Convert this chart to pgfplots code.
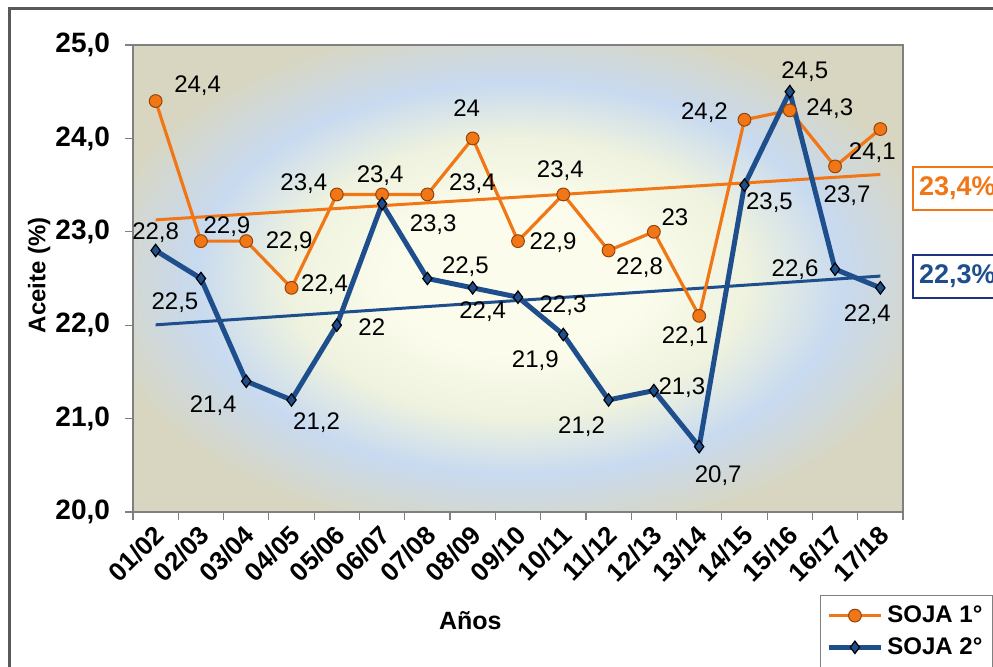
\documentclass[border=0pt]{standalone}
\usepackage{pgfplots}
\usepackage{pgfplotstable}
\pgfplotsset{compat=1.18}
\usepackage{fontspec}
\setmainfont{Liberation Sans}

\definecolor{sojaA}{RGB}{240,118,22}
\definecolor{sojaAedge}{RGB}{150,68,10}
\definecolor{sojaB}{RGB}{30,78,140}
\definecolor{sojaBbox}{RGB}{30,50,130}
\definecolor{bgA}{RGB}{252,252,236}
\definecolor{bgB}{RGB}{238,242,222}
\definecolor{bgC}{RGB}{200,218,240}
\definecolor{bgD}{RGB}{216,214,192}
\pgfdeclareradialshading{plotbg}{\pgfpoint{0bp}{0bp}}{color(0bp)=(bgA); color(8bp)=(bgA); color(15bp)=(bgB); color(21bp)=(bgC); color(28bp)=(bgD); color(50bp)=(bgD)}

\tikzset{lbl/.style={font=\fontsize{12}{14}\selectfont, inner sep=0pt}}

\pgfplotstableread{
x s1 s2
0 24.4 22.8
1 22.9 22.5
2 22.9 21.4
3 22.4 21.2
4 23.4 22.0
5 23.4 23.3
6 23.4 22.5
7 24.0 22.4
8 22.9 22.3
9 23.4 21.9
10 22.8 21.2
11 23.0 21.3
12 22.1 20.7
13 24.2 23.5
14 24.3 24.5
15 23.7 22.6
16 24.1 22.4
}\sojadata

\begin{document}
\begin{tikzpicture}
	\useasboundingbox (0,0) rectangle (496.5pt,333pt);
	% marco exterior
	\draw[line width=1.5pt, gray!70!black] (4.5pt,-10pt) -- (4.5pt,328.5pt) -- (510pt,328.5pt);
	\begin{axis}[
			at={(66.5pt,77pt)}, anchor=south west,
			scale only axis, width=385pt, height=233.5pt,
			xmin=-0.5, xmax=16.5,
			ymin=20, ymax=25,
			clip=false,
			axis background/.style={shade, shading=plotbg},
			axis line style={gray, line width=0.6pt},
			tick align=outside,
			tick style={gray, line width=0.6pt},
			major tick length=4pt, minor tick length=4pt,
			xtick={0,...,16},
			xticklabels={01/02,02/03,03/04,04/05,05/06,06/07,07/08,08/09,09/10,10/11,11/12,12/13,13/14,14/15,15/16,16/17,17/18},
			major x tick style={draw=none},
			minor xtick={-0.5,0.5,...,16.5},
			ytick={20,21,...,25},
			xtick pos=bottom, ytick pos=left,
			/pgf/number format/.cd, fixed, fixed zerofill, precision=1, use comma, assume math mode=true,
			/pgfplots/.cd,
			yticklabel style={font=\bfseries\fontsize{14}{16}\selectfont, xshift=-4pt},
			xticklabel style={font=\bfseries\fontsize{13}{15}\selectfont, rotate=45, anchor=east, xshift=1pt, yshift=-5pt},
			ylabel={Aceite (\%)},
			ylabel style={font=\bfseries\fontsize{12}{14}\selectfont, at={(axis description cs:-0.122,0.507)}, anchor=center},
			xlabel={Años},
			xlabel style={font=\bfseries\fontsize{12.5}{14}\selectfont, at={(axis description cs:0.438,-0.233)}, anchor=center},
			legend style={at={(axis description cs:0.892,-0.178)}, anchor=north west, draw=gray, line width=0.6pt,
					font=\bfseries\fontsize{12}{14}\selectfont, row sep=2pt, inner sep=3pt},
			legend cell align=left,
			legend image code/.code={\draw[#1, mark repeat=2, mark phase=2] plot coordinates {(0pt,0pt) (13pt,0pt) (26pt,0pt)};},
		]

		% lineas de tendencia
		\addplot[forget plot, sojaA, line width=1.5pt] coordinates {(0,23.128) (16,23.614)};
		\addplot[forget plot, sojaB, line width=1.5pt] coordinates {(0,22.004) (16,22.526)};

		\addplot[sojaA, line width=1.6pt, mark=*, mark size=3.2pt,
			mark options={fill=sojaA, draw=sojaAedge, line width=0.5pt}] table[x=x, y=s1] {\sojadata};
		\addlegendentry{SOJA 1°}
		\addplot[sojaB, line width=2.5pt, mark=diamond*, mark size=3.1pt,
			mark options={fill=sojaB, draw=black, line width=0.6pt}] table[x=x, y=s2] {\sojadata};
		\addlegendentry{SOJA 2°}

		% etiquetas SOJA 1
		\node[lbl, xshift=21pt, yshift=7.5pt] at (axis cs:0,24.4) {24,4};
		\node[lbl, xshift=13pt, yshift=7pt] at (axis cs:1,22.9) {22,9};
		\node[lbl, xshift=21.5pt, yshift=-0.5pt] at (axis cs:2,22.9) {22,9};
		\node[lbl, xshift=16.5pt, yshift=1.5pt] at (axis cs:3,22.4) {22,4};
		\node[lbl, xshift=-16.5pt, yshift=5.5pt] at (axis cs:4,23.4) {23,4};
		\node[lbl, xshift=-1pt, yshift=9.5pt] at (axis cs:5,23.4) {23,4};
		\node[lbl, xshift=22.5pt, yshift=5.5pt] at (axis cs:6,23.4) {23,4};
		\node[lbl, xshift=-3pt, yshift=15pt] at (axis cs:7,24.0) {24};
		\node[lbl, xshift=17.5pt, yshift=-1pt] at (axis cs:8,22.9) {22,9};
		\node[lbl, xshift=-1.5pt, yshift=12pt] at (axis cs:9,23.4) {23,4};
		\node[lbl, xshift=15.5pt, yshift=-8.5pt] at (axis cs:10,22.8) {22,8};
		\node[lbl, xshift=10.5pt, yshift=7.5pt] at (axis cs:11,23.0) {23};
		\node[lbl, xshift=-7pt, yshift=-10.5pt] at (axis cs:12,22.1) {22,1};
		\node[lbl, xshift=-20pt, yshift=3.5pt] at (axis cs:13,24.2) {24,2};
		\node[lbl, xshift=20pt, yshift=1pt] at (axis cs:14,24.3) {24,3};
		\node[lbl, xshift=6pt, yshift=-14.5pt] at (axis cs:15,23.7) {23,7};
		\node[lbl, xshift=-4pt, yshift=-12pt] at (axis cs:16,24.1) {24,1};

		% etiquetas SOJA 2
		\node[lbl, xshift=0pt, yshift=9pt] at (axis cs:0,22.8) {22,8};
		\node[lbl, xshift=-13pt, yshift=-12pt] at (axis cs:1,22.5) {22,5};
		\node[lbl, xshift=-16.5pt, yshift=-12pt] at (axis cs:2,21.4) {21,4};
		\node[lbl, xshift=12.5pt, yshift=-11.5pt] at (axis cs:3,21.2) {21,2};
		\node[lbl, xshift=17.5pt, yshift=-1pt] at (axis cs:4,22.0) {22};
		\node[lbl, xshift=25.5pt, yshift=-10.5pt] at (axis cs:5,23.3) {23,3};
		\node[lbl, xshift=19pt, yshift=6pt] at (axis cs:6,22.5) {22,5};
		\node[lbl, xshift=5pt, yshift=-12pt] at (axis cs:7,22.4) {22,4};
		\node[lbl, xshift=22.5pt, yshift=-4pt] at (axis cs:8,22.3) {22,3};
		\node[lbl, xshift=-14pt, yshift=-13pt] at (axis cs:9,21.9) {21,9};
		\node[lbl, xshift=-13.5pt, yshift=-13.5pt] at (axis cs:10,21.2) {21,2};
		\node[lbl, xshift=14pt, yshift=1.5pt] at (axis cs:11,21.3) {21,3};
		\node[lbl, xshift=9.5pt, yshift=-14.5pt] at (axis cs:12,20.7) {20,7};
		\node[lbl, xshift=12.5pt, yshift=-9pt] at (axis cs:13,23.5) {23,5};
		\node[lbl, xshift=7.5pt, yshift=10pt] at (axis cs:14,24.5) {24,5};
		\node[lbl, xshift=-20pt, yshift=0pt] at (axis cs:15,22.6) {22,6};
		\node[lbl, xshift=-6.5pt, yshift=-13.5pt] at (axis cs:16,22.4) {22,4};

		% promedios
		\node[draw=sojaA, line width=1pt, text=sojaA, anchor=west, minimum height=21.5pt, inner xsep=3pt,
			font=\bfseries\fontsize{13.5}{15}\selectfont] at (rel axis cs:1.0117,0.693) {23,4\%};
		\node[draw=sojaBbox, line width=1pt, text=sojaB, anchor=west, minimum height=21.5pt, inner xsep=3pt,
			font=\bfseries\fontsize{13.5}{15}\selectfont] at (rel axis cs:1.0117,0.504) {22,3\%};
	\end{axis}
\end{tikzpicture}
\end{document}
